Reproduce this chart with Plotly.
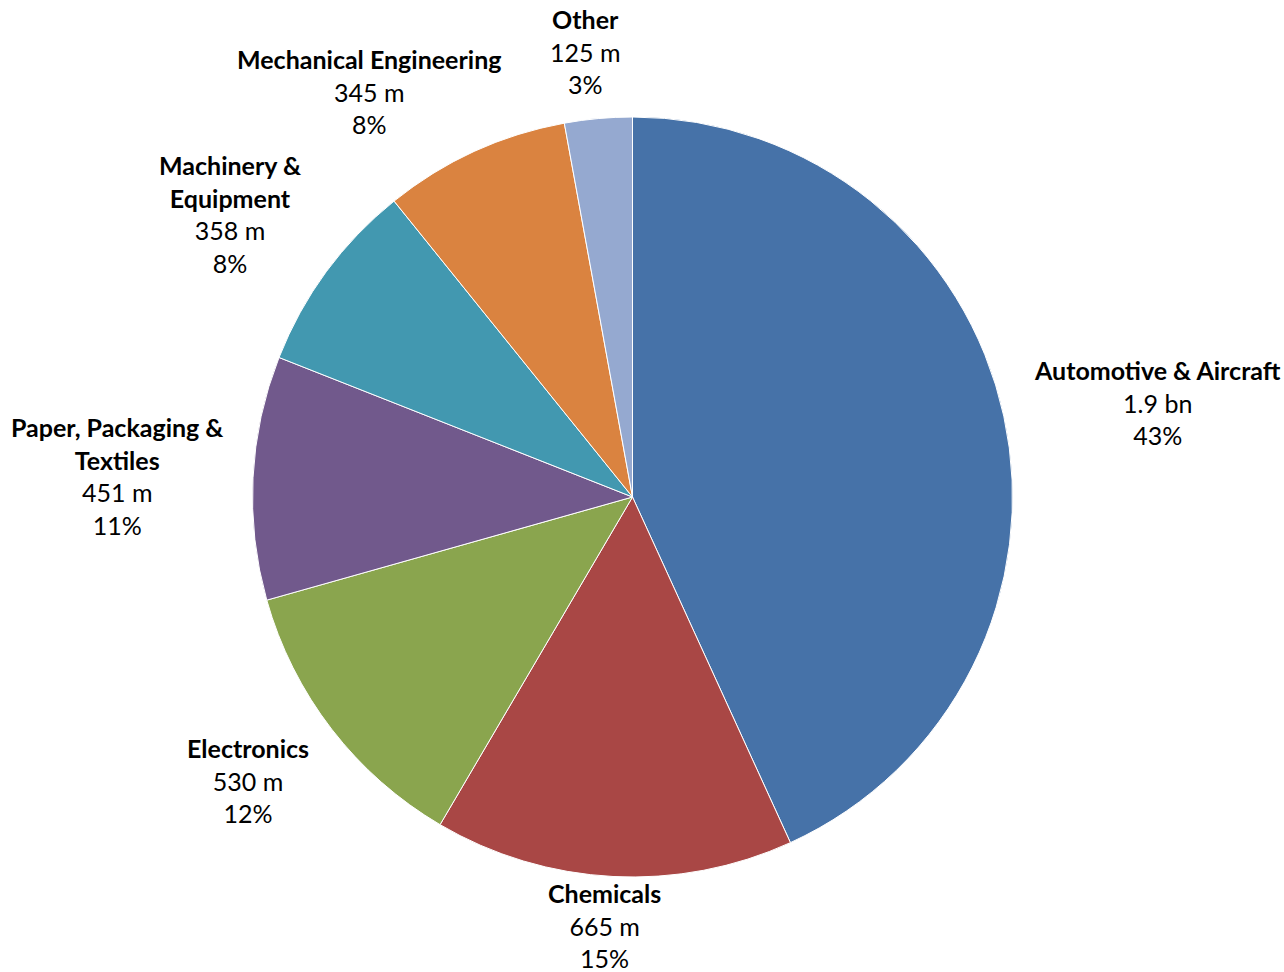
import plotly.graph_objects as go

categories = ["Automotive & Aircraft", "Chemicals", "Electronics",
              "Paper, Packaging &<br>Textiles", "Machinery &<br>Equipment",
              "Mechanical Engineering", "Other"]
values_m = [1880, 665, 530, 451, 358, 345, 125]
value_labels = ["1.9 bn", "665 m", "530 m", "451 m", "358 m", "345 m", "125 m"]
percent_labels = ["43%", "15%", "12%", "11%", "8%", "8%", "3%"]
colors = ["#4672A8", "#A94745", "#8AA54E", "#71598C", "#4298B0", "#DA8340", "#95A9D0"]

# label anchor positions in pixels (center x of text block, center y of first line)
label_pos = [(1157, 371), (604, 894), (248, 749), (117, 428), (230, 166), (369, 60), (585, 20)]

W, H = 1284, 972
cx, cy, r = 632.5, 497, 380

fig = go.Figure(go.Pie(
    labels=[c.replace("<br>", " ") for c in categories],
    values=values_m,
    sort=False,
    direction="clockwise",
    rotation=0,
    marker=dict(colors=colors, line=dict(color="white", width=1)),
    textinfo="none",
    hoverinfo="label+value+percent",
    domain=dict(x=[(cx - r) / W, (cx + r) / W], y=[(H - cy - r) / H, (H - cy + r) / H]),
    showlegend=False,
))

font = "Lato, Open Sans, sans-serif"
for cat, vl, pl, (x, y) in zip(categories, value_labels, percent_labels, label_pos):
    fig.add_annotation(
        x=x / W, y=1 - (y - 18) / H, xref="paper", yref="paper",
        xanchor="center", yanchor="top", showarrow=False,
        text=f"<b>{cat}</b><br>{vl}<br>{pl}",
        font=dict(family=font, size=25, color="black"),
        align="center",
    )

fig.update_layout(width=W, height=H, margin=dict(l=0, r=0, t=0, b=0),
                  paper_bgcolor="white", plot_bgcolor="white")
fig.write_html("out.html", config={"displayModeBar": False},
               post_script="document.body.style.margin='0px';")
